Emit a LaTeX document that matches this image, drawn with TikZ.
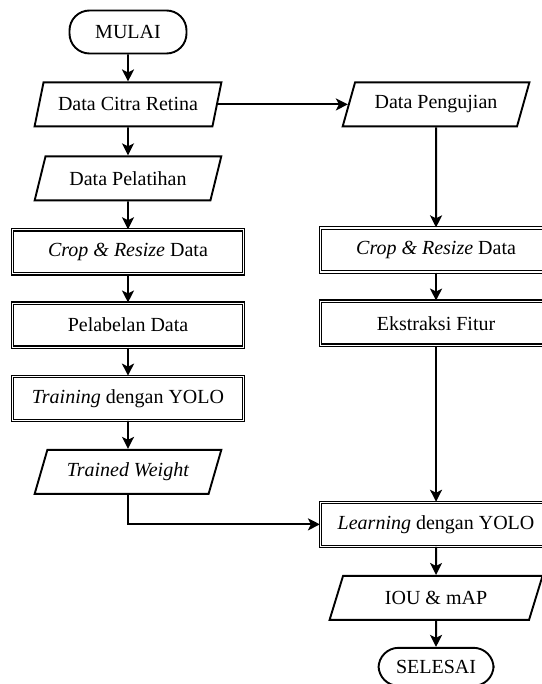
\documentclass[tikz,border=0pt]{standalone}
\usepackage{fontspec}
\setmainfont{Liberation Serif}
\usetikzlibrary{shapes.geometric, arrows.meta, positioning}
\tikzstyle{terminal} = [rectangle, draw, rounded corners=20pt, line width=1.9pt, minimum width=117pt, minimum height=43pt]
\tikzstyle{io} = [trapezium, draw, trapezium left angle=64, trapezium right angle=116, trapezium stretches=true, line width=1.9pt, minimum width=187pt, minimum height=44pt, inner sep=1pt]
\tikzstyle{process} = [rectangle, draw, double, double distance=1.1pt, line width=1.2pt, minimum width=231pt, minimum height=44pt]
\tikzstyle{arrow} = [-{Stealth[length=12pt, width=12pt, inset=3pt]}, line width=1.9pt]

\begin{document}
\begin{tikzpicture}[x=1pt, y=-1pt, node distance=28pt and 130pt, font=\fontsize{20}{24}\selectfont]
  \useasboundingbox (0,0) rectangle (541,684);

  % left column
  \node[terminal] (mulai) at (128,32) {MULAI};
  \node[io, below=27pt of mulai] (citra) {Data Citra Retina};
  \node[io, below=of citra] (latih) {Data Pelatihan};
  \node[process, below=of latih] (crop1) {\textit{Crop \& Resize} Data};
  \node[process, below=of crop1] (label) {Pelabelan Data};
  \node[process, below=of label] (train) {\textit{Training} dengan YOLO};
  \node[io, below=of train] (weight) {\textit{Trained Weight}};

  % right column
  \node[io, right=of citra] (uji) {Data Pengujian};
  \node[process, below=100pt of uji] (crop2) {\textit{Crop \& Resize} Data};
  \node[process, below=of crop2] (fitur) {Ekstraksi Fitur};
  \node[process, below=156pt of fitur] (learn) {\textit{Learning} dengan YOLO};
  \node[io, minimum width=213pt, below=of learn] (iou) {IOU \& mAP};
  \node[terminal, minimum width=115pt, minimum height=38pt, below=26pt of iou] (selesai) {SELESAI};

  \draw[arrow] (mulai) -- (citra);
  \draw[arrow] (citra) -- (latih);
  \draw[arrow] (latih) -- (crop1);
  \draw[arrow] (crop1) -- (label);
  \draw[arrow] (label) -- (train);
  \draw[arrow] (train) -- (weight);
  \draw[arrow] (citra.east) -- (uji.west);
  \draw[arrow] (uji) -- (crop2);
  \draw[arrow] (crop2) -- (fitur);
  \draw[arrow] (fitur) -- (learn);
  \draw[arrow] (weight.south) |- (learn.west);
  \draw[arrow] (learn) -- (iou);
  \draw[arrow] (iou) -- (selesai);
\end{tikzpicture}
\end{document}
